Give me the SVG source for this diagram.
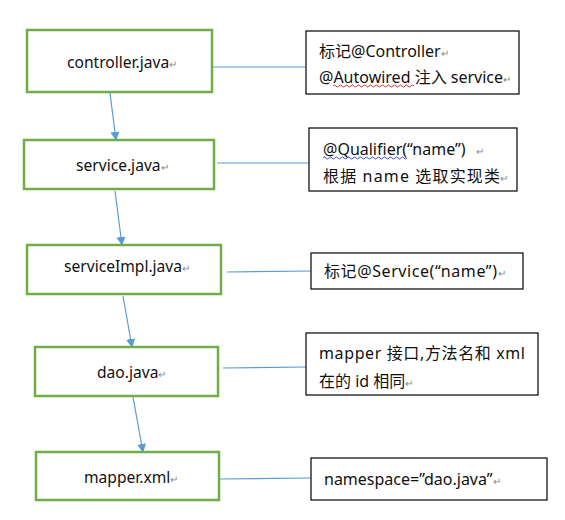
<svg xmlns="http://www.w3.org/2000/svg" width="565" height="520" viewBox="0 0 565 520">
<defs>
<style>
.node rect{fill:#fff;stroke:#70AD47;stroke-width:2.5}
.note rect{fill:#fff;stroke:#000;stroke-width:1.2}
text{font-family:"Noto Sans","Noto Sans CJK SC",sans-serif;font-size:16px;fill:#111}
.node text{font-size:15.6px}
.rm{fill:#888;font-size:10px}
.conn line{stroke:#5B9BD5;stroke-width:1.2}
.arr{marker-end:url(#ah)}
.wave{fill:none;stroke-width:0.9}
</style>
<marker id="ah" viewBox="0 0 10 10" refX="9" refY="5" markerWidth="9" markerHeight="9" markerUnits="userSpaceOnUse" orient="auto">
<path d="M0,0 L10,5 L0,10 z" fill="#5B9BD5"/>
</marker>
</defs>
<rect width="565" height="520" fill="#fff"/>
<g id="connectors" class="conn">
<line class="arr" x1="110" y1="93" x2="116" y2="140"/>
<line class="arr" x1="115" y1="191" x2="122" y2="245"/>
<line class="arr" x1="123" y1="296" x2="132" y2="347"/>
<line class="arr" x1="133" y1="397" x2="143" y2="452"/>
<line x1="212" y1="67" x2="305" y2="67"/>
<line x1="217" y1="163" x2="309" y2="163"/>
<line x1="227" y1="272" x2="311" y2="271"/>
<line x1="223" y1="368" x2="306" y2="367"/>
<line x1="220" y1="479" x2="311" y2="478"/>
</g>
<g id="controller" class="node"><rect x="27" y="30" width="185" height="62"/><text x="67" y="68">controller.java<tspan class="rm">↵</tspan></text></g>
<g id="service" class="node"><rect x="24" y="140" width="190" height="49"/><text x="76" y="171">service.java<tspan class="rm">↵</tspan></text></g>
<g id="serviceImpl" class="node"><rect x="27" y="245" width="194" height="49"/><text x="64" y="272">serviceImpl.java<tspan class="rm">↵</tspan></text></g>
<g id="dao" class="node"><rect x="35" y="347" width="183" height="49"/><text x="97" y="378">dao.java<tspan class="rm">↵</tspan></text></g>
<g id="mapper" class="node"><rect x="36" y="452" width="183" height="48"/><text x="84" y="483">mapper.xml<tspan class="rm">↵</tspan></text></g>
<g id="note-controller" class="note"><rect x="306" y="31" width="213" height="63"/>
<text x="319" y="57">标记@Controller<tspan class="rm">↵</tspan></text>
<text x="319" y="83">@Autowired 注入 service<tspan class="rm">↵</tspan></text>
<path class="wave" stroke="#E02020" d="M333,86 q1.5,-2 3,0 t3,0 t3,0 t3,0 t3,0 t3,0 t3,0 t3,0 t3,0 t3,0 t3,0 t3,0 t3,0 t3,0 t3,0 t3,0 t3,0 t3,0 t3,0 t3,0 t3,0 t3,0 t3,0 t3,0 t3,0 t3,0 t3,0"/>
</g>
<g id="note-service" class="note"><rect x="309" y="128" width="208" height="63"/>
<text x="323" y="155">@Qualifier(“name”) <tspan class="rm" dx="6">↵</tspan></text>
<text x="323" y="182" textLength="177" lengthAdjust="spacing">根据 name 选取实现类</text><text class="rm" x="500" y="182">↵</text>
<path class="wave" stroke="#2040E0" d="M323,158 q1.5,-2 3,0 t3,0 t3,0 t3,0 t3,0 t3,0 t3,0 t3,0 t3,0 t3,0 t3,0 t3,0 t3,0 t3,0 t3,0 t3,0 t3,0 t3,0 t3,0 t3,0 t3,0 t3,0 t3,0 t3,0 t3,0 t3,0 t3,0 t3,0"/>
</g>
<g id="note-serviceImpl" class="note"><rect x="311" y="253" width="212" height="36"/>
<text x="324" y="277" textLength="173" lengthAdjust="spacing">标记@Service(“name”)</text><text class="rm" x="498" y="277">↵</text>
</g>
<g id="note-dao" class="note"><rect x="306" y="333" width="232" height="62"/>
<text x="319" y="359" textLength="206" lengthAdjust="spacing">mapper 接口,方法名和 xml</text>
<text x="319" y="387">在的 id 相同<tspan class="rm">↵</tspan></text>
</g>
<g id="note-mapper" class="note"><rect x="311" y="458" width="236" height="42"/>
<text x="324" y="485">namespace=”dao.java”<tspan class="rm">↵</tspan></text>
</g>
</svg>
